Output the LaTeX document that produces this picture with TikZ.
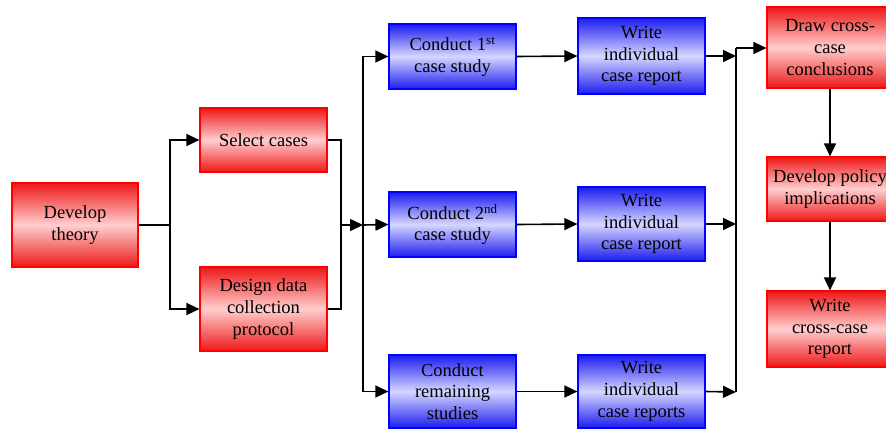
\documentclass[tikz,border=0pt]{standalone}
\usepackage{fontspec}
\setmainfont{Liberation Serif}
\usetikzlibrary{arrows.meta}
\definecolor{redend}{RGB}{238,24,24}
\definecolor{redmid}{RGB}{255,206,206}
\definecolor{blueend}{RGB}{28,28,240}
\definecolor{bluemid}{RGB}{214,214,255}
\begin{document}
\begin{tikzpicture}[x=1pt,y=-1pt,
  box/.style={rectangle, align=center, inner sep=0pt, line width=1.2pt,
    font=\fontsize{18.5}{21.7}\selectfont, text=black},
  redbox/.style={box, draw=red, top color=redend, bottom color=redend, middle color=redmid},
  bluebox/.style={box, draw=blue, top color=blueend, bottom color=blueend, middle color=bluemid},
  link/.style={line width=1.6pt, black},
  arr/.style={link, -{Triangle[length=13pt,width=12pt]}}]
\useasboundingbox (0,0) rectangle (886,429);

% left column: theory, case selection, protocol
\node[redbox, minimum width=126pt, minimum height=84pt] (dev) at (75,225) {Develop\\theory};
\node[redbox, minimum width=127pt, minimum height=64pt] (sel) at (263.5,140) {Select cases};
\node[redbox, minimum width=127pt, minimum height=84pt] (des) at (263.5,309) {Design data\\collection\\protocol};

% case studies
\node[bluebox, minimum width=127pt, minimum height=65pt] (c1) at (452.5,56.5) {Conduct 1\textsuperscript{st}\\case study};
\node[bluebox, minimum width=127pt, minimum height=65pt] (c2) at (452.5,224.5) {Conduct 2\textsuperscript{nd}\\case study};
\node[bluebox, minimum width=127pt, minimum height=73pt] (c3) at (452.5,391.5) {Conduct\\remaining\\studies};

% individual reports
\node[bluebox, minimum width=127pt, minimum height=76pt] (w1) at (641.5,56) {Write\\individual\\case report};
\node[bluebox, minimum width=127pt, minimum height=74pt] (w2) at (641.5,224) {Write\\individual\\case report};
\node[bluebox, minimum width=127pt, minimum height=73pt] (w3) at (641.5,391.5) {Write\\individual\\case reports};

% cross-case column
\node[redbox, minimum width=126pt, minimum height=81pt] (dc) at (830,47.5) {Draw cross-\\case\\conclusions};
\node[redbox, minimum width=126pt, minimum height=64pt] (dp) at (830,189) {Develop policy\\implications};
\node[redbox, minimum width=126pt, minimum height=76pt] (wc) at (830,329) {Write\\cross-case\\report};

% junction points
\coordinate (j1) at (170,225);
\coordinate (j2) at (341,225);
\coordinate (j3) at (363,225);
\coordinate (k1) at (736,56);
\coordinate (k2) at (736,224);
\coordinate (k3) at (736,392);
\coordinate (k0) at (736,48);

% connectors
\draw[link] (dev.east) -- (j1);
\draw[arr] (j1) |- (sel.west);
\draw[arr] (j1) |- (des.west);
\draw[link] (sel.east) -| (j2);
\draw[link] (des.east) -| (j2);
\draw[arr] (j2) -- (j3);
\draw[arr] (j3) |- (c1.west);
\draw[arr] (j3) -- (c2.west);
\draw[arr] (j3) |- (c3.west);
\draw[arr] (c1.east) -- (w1.west);
\draw[arr] (c2.east) -- (w2.west);
\draw[arr] (c3.east) -- (w3.west);
\draw[arr] (w1.east) -- (k1);
\draw[arr] (w2.east) -- (k2);
\draw[arr] (w3.east) -- (k3);
\draw[link] (k3) -- (k0);
\draw[arr] (k0) -- (dc.west |- k0);
\draw[arr] (dc.south) -- (dp.north);
\draw[arr] (dp.south) -- (wc.north);
\end{tikzpicture}
\end{document}
